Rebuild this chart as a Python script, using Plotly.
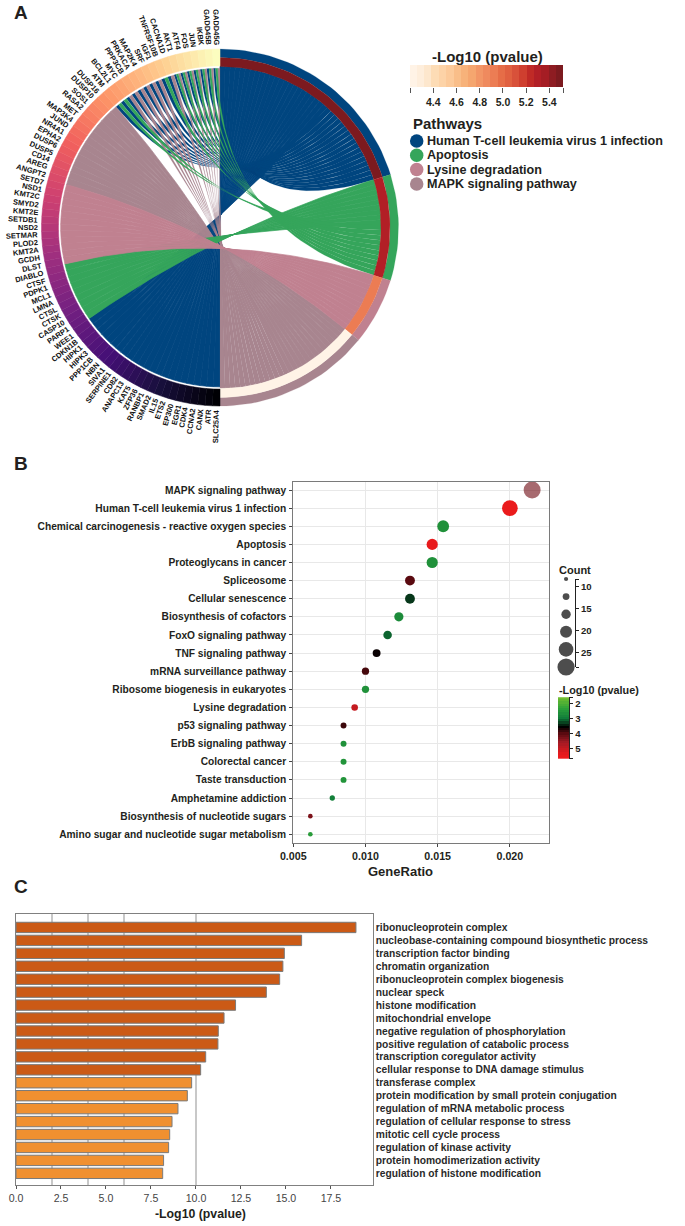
import math
import plotly.graph_objects as go
from plotly.colors import sample_colorscale

# ---------- Panel A data ----------
gene_names = ["SLC25A4","ATR","CANX","CCNA2","CDK4","EGR1","EP300","ETS2","IL15","SMAD2","RANBP1","ZFP36","KAT5",
              "ANAPC13","CD82","SERPINE1","SIVA1","NBN","PPP1CB","HIPK3","HIPK1","CDKN1B","WEE1",
              "PARP1","CASP10","CTSK","CTSL","LMNA","MCL1","PDPK1","CTSF","DIABLO",
              "DLST","GCDH","KMT2A","PLOD2","SETMAR","NSD2","SETDB1","KMT2E","SMYD2","KMT2C","NSD1","SETD7",
              "ANGPT2","AREG","CD14","DUSP5","DUSP6","EPHA2","NR4A1","JUND","MAP3K4","MET","RASA2","SOS1","DUSP10","DUSP16",
              "ATM","BCL2L1","MYC","PPP3CB","PRKACA","MAP2K4","SRF","IGF1","TNFRSF10B","CACNA1D",
              "AKT1","ATF4","FOS","JUN","IKBK","GADD45B","GADD45G"]
gene_pathways = ["B"]*23 + ["G"]*9 + ["L"]*12 + ["M"]*14 + \
    ["BG","BG","BM","BM","BM","BM","BM","BM","BG","BM","BGM","BGM","BGM","BGM","BGM","BGM","BGM"]
pathway_keys = ["B","G","L","M"]
pathway_names = ["Human T-cell leukemia virus 1 infection","Apoptosis","Lysine degradation","MAPK signaling pathway"]
pathway_colors = ["#00457F","#35A55B","#C08190","#A8858F"]
pathway_logp = [5.5,5.3,4.9,4.2]
logp_ramp_colors = ["#FFF3E6","#FEEEDB","#FDE6CB","#FDDCB5","#FDD3A7","#FCC999","#F9BE8A","#F7B27A","#F5A56E","#F29766",
                    "#EF8A5E","#EC7C53","#E66E48","#E06040","#D8503A","#CE3E2E","#C02A26","#B21F26","#A41D24","#8F1C22","#7C1A1F"]
logp_ramp_values = [4.23,4.29,4.35,4.42,4.48,4.54,4.61,4.67,4.73,4.80,4.86,4.92,4.99,5.05,5.11,5.17,5.24,5.30,5.36,5.43,5.49]
logp_ticks = [4.2,4.4,4.6,4.8,5.0,5.2,5.4,5.517]
logp_ticktext = ["","4.4","4.6","4.8","5.0","5.2","5.4",""]

# ---------- Panel B data ----------
dot_terms = ["MAPK signaling pathway","Human T-cell leukemia virus 1 infection","Chemical carcinogenesis - reactive oxygen species",
             "Apoptosis","Proteoglycans in cancer","Spliceosome","Cellular senescence","Biosynthesis of cofactors",
             "FoxO signaling pathway","TNF signaling pathway","mRNA surveillance pathway","Ribosome biogenesis in eukaryotes",
             "Lysine degradation","p53 signaling pathway","ErbB signaling pathway","Colorectal cancer","Taste transduction",
             "Amphetamine addiction","Biosynthesis of nucleotide sugars","Amino sugar and nucleotide sugar metabolism"]
dot_ratio = [0.02154,0.0200,0.01538,0.01462,0.01462,0.01308,0.01308,0.01231,0.01153,0.01077,0.0100,0.0100,0.00925,
             0.00848,0.00848,0.00848,0.00848,0.0077,0.00618,0.00618]
dot_count = [28,26,20,19,19,17,17,16,15,14,13,13,12,11,11,11,11,10,9,9]
dot_logp = [4.2,5.5,2.6,5.4,2.6,4.0,3.3,2.7,3.1,3.6,3.9,2.6,5.0,3.85,2.6,2.55,2.55,2.9,4.3,2.4]
dot_alpha = [0.62]+[1]*19
count_legend = [8.3,12.3,16.3,20.3,24.3,28.3]
heat_legend_vals = [1.6,1.75,1.9,2.05,2.2,2.35,2.5,2.65,2.8,2.95,3.1,3.25,3.4,3.55,3.7,3.85,4.0,4.15,4.3,4.45,4.6,4.75,4.9,5.05,5.2,5.35,5.5,5.65]
heat_scale_min, heat_scale_max = 1.55, 5.7
heat_stops = [(1.55,"#74BF2E"),(2.3,"#2DA23A"),(3.0,"#0F7A3A"),(3.55,"#000000"),(4.0,"#5A0A10"),(4.6,"#A01A24"),(5.4,"#E81A1C"),(5.7,"#EE1C1C")]

# ---------- Panel C data ----------
go_terms = ["ribonucleoprotein complex","nucleobase-containing compound biosynthetic process","transcription factor binding",
            "chromatin organization","ribonucleoprotein complex biogenesis","nuclear speck","histone modification",
            "mitochondrial envelope","negative regulation of phosphorylation","positive regulation of catabolic process",
            "transcription coregulator activity","cellular response to DNA damage stimulus","transferase complex",
            "protein modification by small protein conjugation","regulation of mRNA metabolic process",
            "regulation of cellular response to stress","mitotic cell cycle process","regulation of kinase activity",
            "protein homodimerization activity","regulation of histone modification"]
go_logp = [18.89,15.87,14.91,14.83,14.65,13.91,12.2,11.56,11.24,11.22,10.54,10.26,9.76,9.52,9.0,8.67,8.54,8.48,8.2,8.15]

FONT = "Liberation Sans"
INK = "#231F20"
W, H = 685, 1226
CX, CY = 220, 227.5
R_OUT, R_MID, R_IN, R_GENE = 178.5, 170, 161, 159.3

fig = go.Figure()

def pt(r, a):
    t = math.radians(a)
    return CX + r*math.sin(t), CY - r*math.cos(t)

def arc(r, a1, a2, n=6):
    return [pt(r, a1+(a2-a1)*k/n) for k in range(n+1)]

def bez(p0, p2, n=40):
    out = []
    for k in range(1, n):
        t = k/n
        out.append(((1-t)**2*p0[0]+2*t*(1-t)*CX+t*t*p2[0], (1-t)**2*p0[1]+2*t*(1-t)*CY+t*t*p2[1]))
    return out

def poly(points, color, lw=0.25):
    fig.add_trace(go.Scatter(x=[p[0] for p in points]+[points[0][0]], y=[p[1] for p in points]+[points[0][1]],
                             mode="lines", fill="toself", fillcolor=color, line=dict(color=color, width=lw),
                             hoverinfo="skip", showlegend=False, xaxis="x", yaxis="y"))

def ramp_color(v):
    best = min(range(len(logp_ramp_values)), key=lambda i: abs(logp_ramp_values[i]-v))
    return logp_ramp_colors[best]

# ribbons
counts = {k: sum(k in g for g in gene_pathways) for k in pathway_keys}
total = sum(counts.values())
link_deg = 180/total
start, s = {}, 0
for k in pathway_keys:
    start[k] = s
    s += counts[k]*link_deg
gene_deg = 180/len(gene_names)
used = {k: 0 for k in pathway_keys}
links = {k: [] for k in pathway_keys}
for i, paths in enumerate(gene_pathways):
    w = gene_deg/len(paths)
    for j, k in enumerate(paths):
        a1 = 180+i*gene_deg+j*w
        a2 = a1+w
        b1 = start[k]+used[k]*link_deg
        b2 = b1+link_deg
        used[k] += 1
        links[k].append((a1, a2, b1, b2, len(paths)))
for k in ["B","M","G","L"]:
    col = pathway_colors[pathway_keys.index(k)]
    for a1, a2, b1, b2, np_ in links[k]:
        pts = arc(R_GENE, a1, a2, 3) + bez(pt(R_GENE, a2), pt(R_IN, b2)) + arc(R_IN, b2, b1, 3) + bez(pt(R_IN, b1), pt(R_GENE, a1))
        poly(pts, col, 0.7 if np_ == 1 else 0.15)

# term rings
for n, k in enumerate(pathway_keys):
    a1 = start[k]; a2 = a1+counts[k]*link_deg
    steps = max(4, int((a2-a1)/2))
    poly(arc(R_OUT, a1, a2, steps)+arc(R_MID, a2, a1, steps), pathway_colors[n], 0.2)
    poly(arc(R_MID, a1, a2, steps)+arc(R_IN, a2, a1, steps), ramp_color(pathway_logp[n]), 0.2)

# gene ring
ann = []
CH = dict(zip("ABCDEFGHIJKLMNOPQRSTUVWXYZ0123456789",
              [.722,.722,.722,.722,.667,.611,.778,.722,.278,.556,.722,.611,.833,.722,.778,.667,.778,.722,.667,.611,.722,.667,.944,.667,.667,.611]+[.556]*10))
GENE_SIZE = 7.5
mags = sample_colorscale("Magma", [i/(len(gene_names)-1) for i in range(len(gene_names))], colortype="rgb")
for i, name in enumerate(gene_names):
    a1 = 180+i*gene_deg; a2 = a1+gene_deg
    poly(arc(R_OUT, a1, a2, 3)+arc(R_IN+0.6, a2, a1, 3), mags[i], 0.5)
    phi = (i+0.5)*gene_deg
    tw = sum(CH.get(c, .6) for c in name)*GENE_SIZE
    x, y = pt(R_OUT+4+tw/2, 180+phi)
    ann.append(dict(x=x, y=y, xref="x", yref="y", text=name, showarrow=False, textangle=phi-90,
                    xanchor="center", yanchor="middle", font=dict(family=FONT, size=GENE_SIZE, color="#111", weight=700), borderpad=0))

def page_text(x, y, text, size, anchor="left", weight=700, color=INK):
    ann.append(dict(x=x, y=y, xref="x", yref="y", text=text, showarrow=False, xanchor=anchor, yanchor="middle",
                    font=dict(family=FONT, size=size, color=color, weight=weight), borderpad=0))

# pathway legend
legend_y = [141, 155.3, 169.5, 184]
fig.add_trace(go.Scatter(x=[416.7]*4, y=legend_y, mode="markers", marker=dict(size=13.5, color=pathway_colors),
                         hoverinfo="skip", showlegend=False, xaxis="x", yaxis="y"))
for name, y in zip(pathway_names, legend_y):
    page_text(425.5, y, name, 12.6)
page_text(412, 123, "Pathways", 15)
page_text(487, 56, "-Log10 (pvalue)", 15, "center")
page_text(13, 12, "A", 19)
page_text(13, 463, "B", 19)
page_text(13, 886, "C", 19)
page_text(400, 871, "GeneRatio", 13, "center")
page_text(200, 1214, "-Log10 (pvalue)", 12.3, "center")
page_text(558, 570, "Count", 11)
page_text(558, 690, "-Log10 (pvalue)", 10.8)

# top colour ramp
n_ramp = len(logp_ramp_colors)
fig.add_trace(go.Heatmap(z=[logp_ramp_values], x=logp_ramp_values, y=[0], zmin=logp_ramp_values[0], zmax=logp_ramp_values[-1],
                         colorscale=[[i/(n_ramp-1), c] for i, c in enumerate(logp_ramp_colors)], showscale=False,
                         hoverinfo="skip", xaxis="x6", yaxis="y6"))

# dots
heat_cs = [[(v-heat_scale_min)/(heat_scale_max-heat_scale_min), c] for v, c in heat_stops]
def diam(c):
    return 4.2+(c-8.3)*0.65
fig.add_trace(go.Scatter(x=dot_ratio, y=dot_terms, mode="markers", cliponaxis=False,
                         marker=dict(size=[diam(c) for c in dot_count], sizemode="diameter", color=dot_logp, colorscale=heat_cs,
                                     cmin=heat_scale_min, cmax=heat_scale_max, opacity=dot_alpha, line=dict(width=0)),
                         hoverinfo="skip", showlegend=False, xaxis="x2", yaxis="y2"))
# count legend
fig.add_trace(go.Scatter(x=[0]*len(count_legend), y=count_legend, mode="markers", cliponaxis=False,
                         marker=dict(size=[diam(c) for c in count_legend], color="#4D4D4D", opacity=1, line=dict(width=0)),
                         hoverinfo="skip", showlegend=False, xaxis="x4", yaxis="y4"))
# heat legend
fig.add_trace(go.Heatmap(z=[[v] for v in heat_legend_vals], y=heat_legend_vals, x=[0], zmin=heat_scale_min, zmax=heat_scale_max,
                         colorscale=heat_cs, showscale=False, hoverinfo="skip", xaxis="x5", yaxis="y5"))
# bars
fig.add_trace(go.Bar(x=go_logp, y=go_terms, orientation="h", width=0.8,
                     marker=dict(color=["#CB5A16"]*12+["#F09030"]*8, line=dict(color="#7A7A7A", width=1)),
                     hoverinfo="skip", showlegend=False, xaxis="x3", yaxis="y3"))

def dx(a, b): return [a/W, b/W]
def dy(top, bottom): return [1-bottom/H, 1-top/H]

tickfont_b = dict(family=FONT, size=10.7, color=INK, weight=700)
layout = dict(
    template="none",
    width=W, height=H, autosize=False, margin=dict(l=0, r=0, t=0, b=0, pad=0, autoexpand=False), paper_bgcolor="white", plot_bgcolor="rgba(0,0,0,0)",
    showlegend=False, annotations=ann,
    xaxis=dict(domain=[0,1], range=[0,W], visible=False, fixedrange=True, automargin=False),
    yaxis=dict(domain=[0,1], range=[H,0], visible=False, fixedrange=True, automargin=False),
    xaxis2=dict(domain=dx(293.3,549.3), range=[0.005,0.02273], tickvals=[0.005,0.01,0.015,0.02], ticktext=["0.005","0.010","0.015","0.020"],
                ticks="outside", ticklen=3, tickcolor="#444", showline=True, mirror=True, linecolor="#7A7A7A", linewidth=1.2,
                showgrid=True, gridcolor="#E8E8E8", gridwidth=1, zeroline=False, tickfont=tickfont_b, anchor="y2", automargin=False),
    yaxis2=dict(domain=dy(481.7,843.3), range=[19.5,-0.46], type="category", categoryorder="array", categoryarray=dot_terms,
                ticks="outside", ticklen=3, tickcolor="#444", showline=True, mirror=True, linecolor="#7A7A7A", linewidth=1.2,
                showgrid=True, gridcolor="#E8E8E8", gridwidth=1, tickmode="array", tickvals=dot_terms, ticktext=dot_terms,
                tickfont=dict(family=FONT, size=10.2, color=INK, weight=700), ticklabelstandoff=1, anchor="x2", automargin=False),
    xaxis3=dict(domain=dx(16,372.7), range=[0,19.82], tickvals=[0,2.5,5,7.5,10,12.5,15,17.5],
                ticktext=["0.0","2.5","5.0","7.5","10.0","12.5","15.0","17.5"], ticks="outside", ticklen=3, tickcolor="#555",
                showline=True, mirror=True, linecolor="#808080", linewidth=1.2, showgrid=False, zeroline=False,
                minor=dict(tickvals=[2,4,6,10], showgrid=True, gridcolor="#C8C8C8", gridwidth=1.5, ticks=""),
                tickfont=dict(family=FONT, size=10.6, color="#444"), anchor="y3", automargin=False),
    yaxis3=dict(domain=dy(914,1185), range=[19.9,-1.04], type="category", categoryorder="array", categoryarray=go_terms,
                side="right", ticks="", showline=True, mirror=True, linecolor="#808080", linewidth=1.2, showgrid=False,
                tickmode="array", tickvals=go_terms, ticktext=go_terms, ticklabelstandoff=0,
                tickfont=dict(family=FONT, size=10.25, color="#2A2A2A", weight=700), anchor="x3", automargin=False),
    xaxis4=dict(domain=dx(556,575), range=[-1.126,1], visible=False, fixedrange=True, anchor="y4", automargin=False),
    yaxis4=dict(domain=dy(579,667), range=[28.3,8.3], side="right", tickvals=[8.3,10,15,20,25,28.3], ticktext=["","10","15","20","25",""],
                ticks="outside", ticklen=3, tickcolor="#222", showline=True, linecolor="#222", linewidth=1, showgrid=False, zeroline=False,
                tickfont=dict(family=FONT, size=9.6, color=INK, weight=700), anchor="x4", automargin=False),
    xaxis5=dict(domain=dx(558,569.3), range=[-0.5,0.5], visible=False, fixedrange=True, anchor="y5", automargin=False),
    yaxis5=dict(domain=dy(697.3,758.7), range=[5.7,1.55], side="right", tickvals=[1.55,2,3,4,5,5.7], ticktext=["","2","3","4","5",""],
                ticks="outside", ticklen=3, tickcolor="#222", showline=True, linecolor="#222", linewidth=1, showgrid=False, zeroline=False,
                tickfont=dict(family=FONT, size=9.6, color=INK, weight=700), anchor="x5", automargin=False),
    xaxis6=dict(domain=dx(410,563), range=[4.2,5.517], tickvals=logp_ticks, ticktext=logp_ticktext, ticks="outside", ticklen=5,
                tickcolor="#555", showline=False, showgrid=False, zeroline=False,
                tickfont=dict(family=FONT, size=10.5, color=INK, weight=700), anchor="y6", automargin=False),
    yaxis6=dict(domain=dy(65,87), range=[-0.5,0.5], visible=False, fixedrange=True, anchor="x6", automargin=False),
)
fig.update_layout(**layout)
fig.write_html("out.html", config={"displayModeBar": False},
               post_script="document.body.style.margin='0';document.body.style.overflow='hidden';")
